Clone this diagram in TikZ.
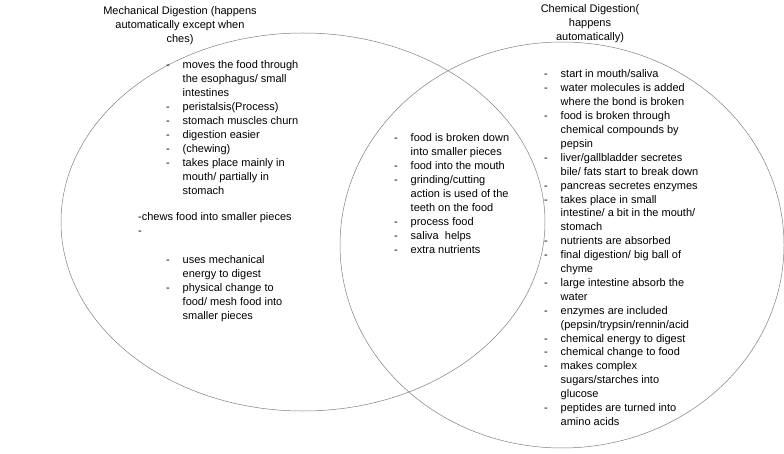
\documentclass[tikz,border=0pt]{standalone}
\usepackage{fontspec}
\setmainfont{Liberation Sans}
\usepackage{array}
\usetikzlibrary{positioning}
\tikzset{
    setring/.style={draw=gray, line width=0.5pt},
    heading/.style={align=center, inner sep=0pt},
    factlist/.style={anchor=north west, inner sep=0pt, align=left} }
\newenvironment{facts}{\begin{tabular}{@{}p{16.5pt}@{}l@{}}}{\end{tabular}}

\begin{document}
\begin{tikzpicture}[x=1pt, y=-1pt, font=\fontsize{11}{13.9}\selectfont]
    \useasboundingbox (0,0) rectangle (784,454);
    % ---- the two sets
    \draw[setring] (303,222) ellipse [x radius=242, y radius=189];
    \draw[setring] (562,245) ellipse [x radius=222, y radius=203];
    % ---- headings
    \node[heading] (mech) at (180,26) {Mechanical Digestion (happens\\automatically except when\\ches)};
    \node[heading] (chem) at (590,24) {Chemical Digestion(\\happens\\automatically)};
    % ---- left part
    \node[factlist] (mechA) at (166,59) {\begin{facts}
        - & moves the food through\\
          & the esophagus/ small\\
          & intestines\\
        - & peristalsis(Process)\\
        - & stomach muscles churn\\
        - & digestion easier\\
        - & (chewing)\\
        - & takes place mainly in\\
          & mouth/ partially in\\
          & stomach
    \end{facts}};
    \node[factlist] (mechB) at (138,212) {-chews food into smaller pieces\\-};
    \node[factlist] (mechC) at (166,254) {\begin{facts}
        - & uses mechanical\\
          & energy to digest\\
        - & physical change to\\
          & food/ mesh food into\\
          & smaller pieces
    \end{facts}};
    % ---- shared part
    \node[factlist] (both) at (394,132) {\begin{facts}
        - & food is broken down\\
          & into smaller pieces\\
        - & food into the mouth\\
        - & grinding/cutting\\
          & action is used of the\\
          & teeth on the food\\
        - & process food\\
        - & saliva\ \ helps\\
        - & extra nutrients
    \end{facts}};
    % ---- right part
    \node[factlist] (chemA) at (544,68) {\begin{facts}
        - & start in mouth/saliva\\
        - & water molecules is added\\
          & where the bond is broken\\
        - & food is broken through\\
          & chemical compounds by\\
          & pepsin\\
        - & liver/gallbladder secretes\\
          & bile/ fats start to break down\\
        - & pancreas secretes enzymes\\
        - & takes place in small\\
          & intestine/ a bit in the mouth/\\
          & stomach\\
        - & nutrients are absorbed\\
        - & final digestion/ big ball of\\
          & chyme\\
        - & large intestine absorb the\\
          & water\\
        - & enzymes are included\\
          & (pepsin/trypsin/rennin/acid\\
        - & chemical energy to digest\\
        - & chemical change to food\\
        - & makes complex\\
          & sugars/starches into\\
          & glucose\\
        - & peptides are turned into\\
          & amino acids
    \end{facts}};
\end{tikzpicture}
\end{document}
